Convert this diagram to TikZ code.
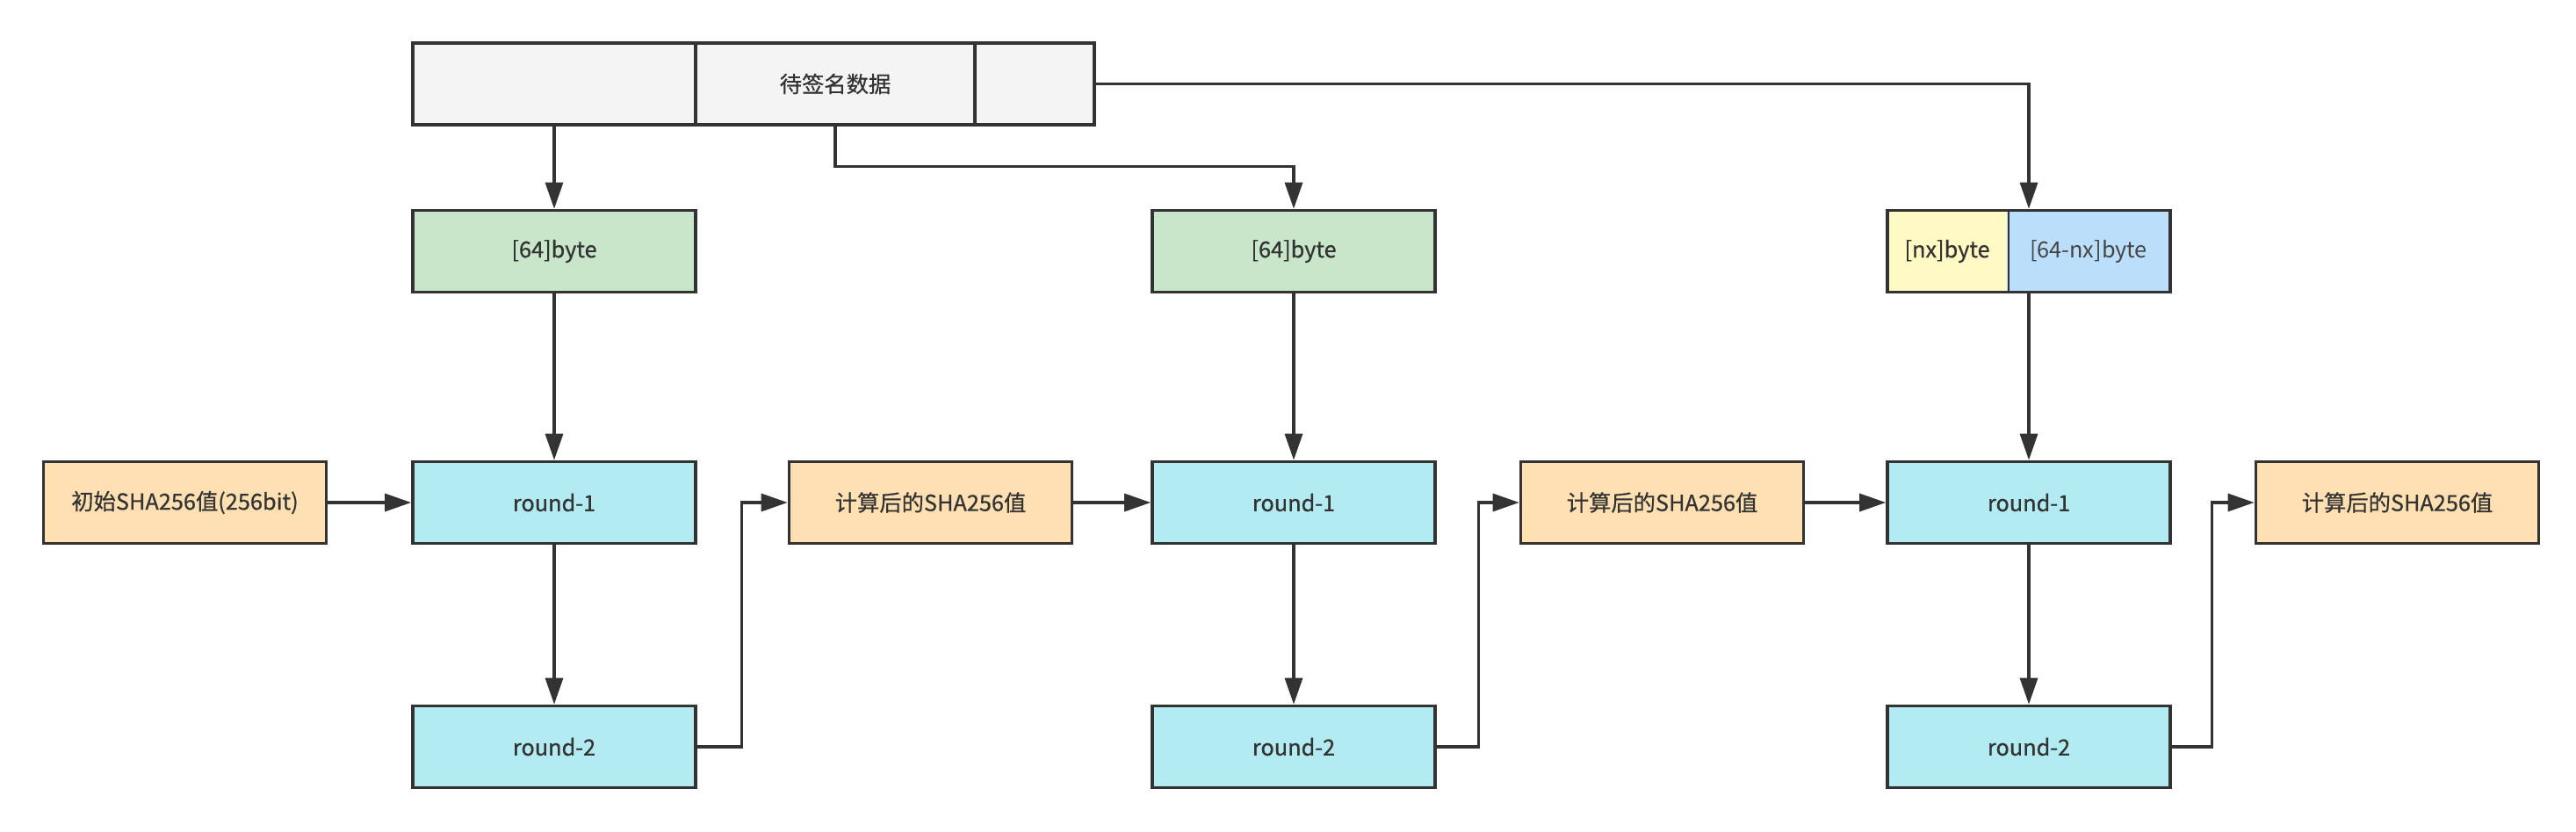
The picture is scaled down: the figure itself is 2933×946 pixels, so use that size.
\documentclass[tikz,border=0pt]{standalone}
\usepackage{fontspec}
\setmainfont{Noto Sans CJK SC}[FakeBold=0.6]
\newfontfamily\thinfont{Noto Sans CJK SC}
\usetikzlibrary{arrows.meta}

\definecolor{linegray}{HTML}{333333}
\definecolor{textgray}{HTML}{444444}
\definecolor{barfill}{HTML}{F4F4F4}
\definecolor{greenfill}{HTML}{C8E6C9}
\definecolor{roundfill}{HTML}{B2EBF2}
\definecolor{hashfill}{HTML}{FFE0B2}
\definecolor{yellowfill}{HTML}{FFF9C4}
\definecolor{bluefill}{HTML}{BBDEFB}

\begin{document}
\begin{tikzpicture}[x=0.25mm, y=-0.25mm,
    box/.style={draw=linegray, line width=0.9mm, minimum width=80.5mm, minimum height=23.25mm,
        inner sep=0pt, text=linegray, font=\fontsize{18}{21}\selectfont},
    flow/.style={draw=linegray, line width=0.8mm, -{Triangle[length=7.5mm, width=5mm]}}]
        \useasboundingbox (0,0) rectangle (2933,946);
        \node[box, fill=barfill] (d1) at (631,95.5) {};
        \node[box, fill=barfill, minimum width=79.5mm] (d2) at (951,95.5) {待签名数据};
        \node[box, fill=barfill, minimum width=34mm] (d3) at (1178,95.5) {};
        \node[box, fill=greenfill] (g1) at (631,286) {[64]byte};
        \node[box, fill=greenfill] (g2) at (1473,286) {[64]byte};
        \node[box, draw=none, fill=yellowfill, minimum width=34mm] (nx) at (2217,286) {[nx]byte};
        \node[box, draw=none, fill=bluefill, minimum width=46.5mm, text=textgray,
            font=\thinfont\fontsize{18}{21}\selectfont] (rest) at (2378,286) {[64-nx]byte};
        \draw[linegray, line width=0.4mm] (nx.north east) -- (nx.south east);
        \node[box] (split) at (2310,286) {};
        \node[box, fill=hashfill] (init) at (210.5,572) {初始SHA256值(256bit)};
        \node[box, fill=roundfill] (r1a) at (631,572) {round-1};
        \node[box, fill=roundfill] (r2a) at (631,850) {round-2};
        \node[box, fill=hashfill] (h1) at (1059.5,572) {计算后的SHA256值};
        \node[box, fill=roundfill] (r1b) at (1473,572) {round-1};
        \node[box, fill=roundfill] (r2b) at (1473,850) {round-2};
        \node[box, fill=hashfill] (h2) at (1892.5,572) {计算后的SHA256值};
        \node[box, fill=roundfill] (r1c) at (2310,572) {round-1};
        \node[box, fill=roundfill] (r2c) at (2310,850) {round-2};
        \node[box, fill=hashfill] (h3) at (2729.5,572) {计算后的SHA256值};
        \draw[flow] (d1) -- (g1);
        \draw[flow] (d2.south) -- ++(0,46) -| (g2);
        \draw[flow] (d3.east) -| (split);
        \draw[flow] (g1) -- (r1a);
        \draw[flow] (g2) -- (r1b);
        \draw[flow] (split) -- (r1c);
        \draw[flow] (init) -- (r1a);
        \draw[flow] (r1a) -- (r2a);
        \draw[flow] (r2a.east) -- ++(51,0) |- (h1);
        \draw[flow] (h1) -- (r1b);
        \draw[flow] (r1b) -- (r2b);
        \draw[flow] (r2b.east) -- ++(48,0) |- (h2);
        \draw[flow] (h2) -- (r1c);
        \draw[flow] (r1c) -- (r2c);
        \draw[flow] (r2c.east) -- ++(46,0) |- (h3);
    \end{tikzpicture}
\end{document}
